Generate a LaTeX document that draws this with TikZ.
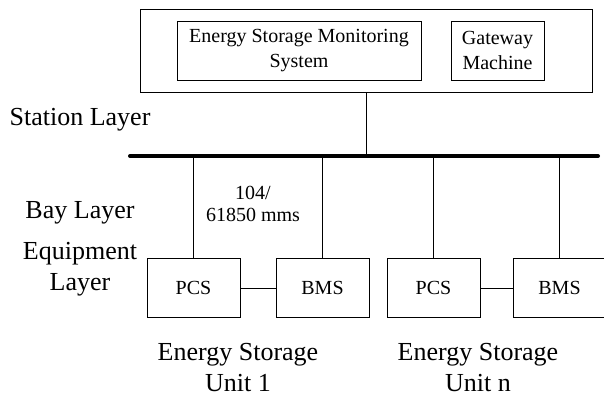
\documentclass[tikz,border=0pt]{standalone}
\usepackage{fontspec}
\setmainfont{Liberation Serif}
\begin{document}
\begin{tikzpicture}[x=1pt, y=-1pt, line width=0.9pt,
	boite/.style={draw, align=center, inner sep=0pt, minimum width=93pt, minimum height=59pt, font=\fontsize{20}{25}\selectfont},
	couche/.style={align=center, inner sep=0pt, font=\fontsize{26}{31}\selectfont}]
	\useasboundingbox (0,0) rectangle (604,397);

	% station
	\node[boite, minimum width=452pt, minimum height=83pt] (station) at (366,50.5) {};
	\node[boite, minimum width=244pt] (esms) at (299,50.5) {Energy Storage Monitoring\\System};
	\node[boite] (gw) at (497.5,50.5) {Gateway\\Machine};

	% le bus
	\coordinate (busL) at (130,156);
	\coordinate (busR) at (598,156);
	\draw[-, line width=4pt, line cap=round] (busL) -- (busR);
	\draw[-] (station.south) -- (station.south |- busL);

	% unites
	\node[boite] (pcsA) at (193.5,288) {PCS};
	\node[boite] (bmsA) at (322.5,288) {BMS};
	\node[boite] (pcsN) at (433.5,288) {PCS};
	\node[boite] (bmsN) at (559.5,288) {BMS};
	\draw[-] (pcsA) -- (bmsA);
	\draw[-] (pcsN) -- (bmsN);
	\foreach \u in {pcsA, bmsA, pcsN, bmsN}
		\draw[-] (\u.north) -- (\u.north |- busL);

	% textes
	\node[couche] (lstation) at (80,120) {Station Layer};
	\node[couche] (lbay) at (80,213) {Bay Layer};
	\node[couche] (lequip) at (80,269) {Equipment\\Layer};
	\node[align=center, inner sep=0pt, font=\fontsize{20}{22}\selectfont] (proto) at (253,204) {104/\\61850 mms};
	\node[couche] (unitA) at (238,367.5) {Energy Storage\\Unit 1};
	\node[couche] (unitN) at (478,367.5) {Energy Storage\\Unit n};

\end{tikzpicture}
\end{document}
